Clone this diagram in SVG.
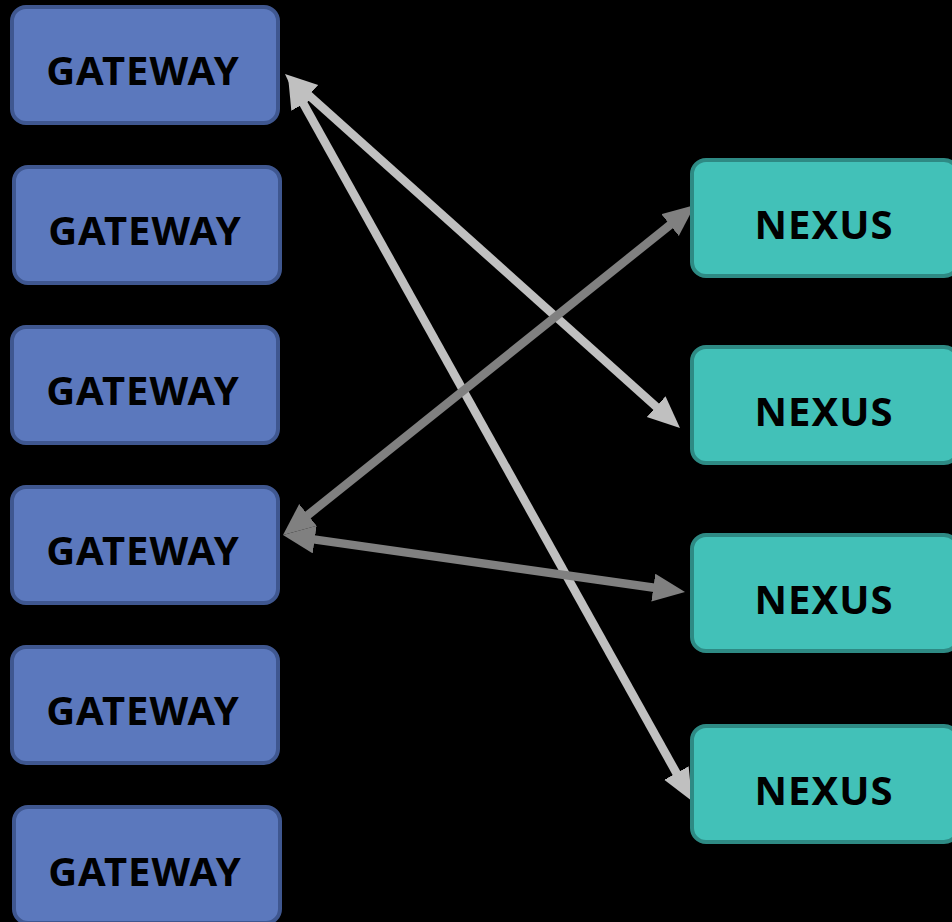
<svg xmlns="http://www.w3.org/2000/svg" width="952" height="922" viewBox="0 0 952 922">
<defs>
<style>
.gw rect{fill:#5b78bd;stroke:#3f5790;stroke-width:4}
.nx rect{fill:#42c1b8;stroke:#2e8a84;stroke-width:4}
text{font-family:"Noto Sans","Open Sans","DejaVu Sans",sans-serif;font-weight:bold;font-size:40px;letter-spacing:1px;fill:#000;text-anchor:middle}
.lt{stroke:#c0c0c0;stroke-width:8.5;fill:none;marker-start:url(#hl);marker-end:url(#hl)}
.dk{stroke:#808080;stroke-width:8.5;fill:none;marker-start:url(#hd);marker-end:url(#hd)}
</style>
<marker id="hl" markerUnits="userSpaceOnUse" markerWidth="34" markerHeight="30" refX="1" refY="14" orient="auto-start-reverse"><path d="M0,0 L32,14 L0,28 z" fill="#c0c0c0"/></marker>
<marker id="hd" markerUnits="userSpaceOnUse" markerWidth="34" markerHeight="30" refX="1" refY="14" orient="auto-start-reverse"><path d="M0,0 L32,14 L0,28 z" fill="#808080"/></marker>
</defs>
<rect width="952" height="922" fill="#000"/>
<g id="connectors">
<line class="lt" x1="308.1" y1="94.7" x2="656.9" y2="407.3"/>
<line class="lt" x1="303.1" y1="103.1" x2="676.9" y2="773.9"/>
<line class="dk" x1="670.8" y1="224.4" x2="307.2" y2="515.6"/>
<line class="dk" x1="313.7" y1="539.4" x2="654.3" y2="587.7"/>
</g>
<g id="gateway1" class="gw"><rect x="12" y="7" width="266" height="116" rx="14"/><text x="143" y="85">GATEWAY</text></g>
<g id="gateway2" class="gw"><rect x="14" y="167" width="266" height="116" rx="14"/><text x="145" y="245">GATEWAY</text></g>
<g id="gateway3" class="gw"><rect x="12" y="327" width="266" height="116" rx="14"/><text x="143" y="405">GATEWAY</text></g>
<g id="gateway4" class="gw"><rect x="12" y="487" width="266" height="116" rx="14"/><text x="143" y="565">GATEWAY</text></g>
<g id="gateway5" class="gw"><rect x="12" y="647" width="266" height="116" rx="14"/><text x="143" y="725">GATEWAY</text></g>
<g id="gateway6" class="gw"><rect x="14" y="807" width="266" height="116" rx="14"/><text x="145" y="886">GATEWAY</text></g>
<g id="nexus1" class="nx"><rect x="692" y="160" width="266" height="116" rx="14"/><text x="824" y="239">NEXUS</text></g>
<g id="nexus2" class="nx"><rect x="692" y="347" width="266" height="116" rx="14"/><text x="824" y="426">NEXUS</text></g>
<g id="nexus3" class="nx"><rect x="692" y="535" width="266" height="116" rx="14"/><text x="824" y="614">NEXUS</text></g>
<g id="nexus4" class="nx"><rect x="692" y="726" width="266" height="116" rx="14"/><text x="824" y="805">NEXUS</text></g>
</svg>
